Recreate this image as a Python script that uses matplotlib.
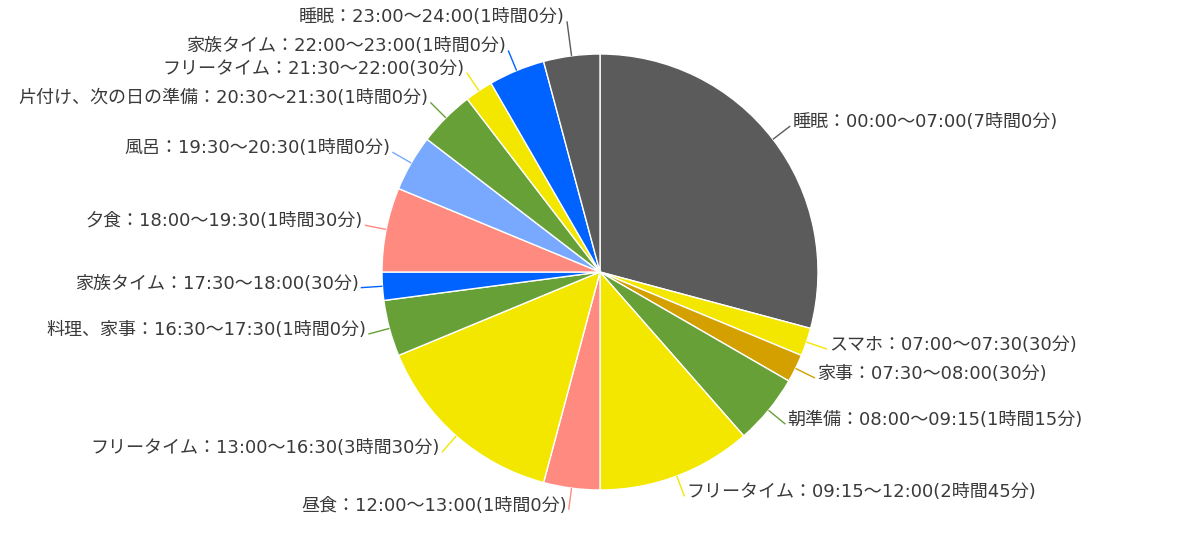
import numpy as np
import matplotlib.pyplot as plt

plt.rcParams['font.family'] = ['DejaVu Sans', 'Noto Sans CJK JP']

labels = [
    '睡眠：00:00〜07:00(7時間0分)',
    'スマホ：07:00〜07:30(30分)',
    '家事：07:30〜08:00(30分)',
    '朝準備：08:00〜09:15(1時間15分)',
    'フリータイム：09:15〜12:00(2時間45分)',
    '昼食：12:00〜13:00(1時間0分)',
    'フリータイム：13:00〜16:30(3時間30分)',
    '料理、家事：16:30〜17:30(1時間0分)',
    '家族タイム：17:30〜18:00(30分)',
    '夕食：18:00〜19:30(1時間30分)',
    '風呂：19:30〜20:30(1時間0分)',
    '片付け、次の日の準備：20:30〜21:30(1時間0分)',
    'フリータイム：21:30〜22:00(30分)',
    '家族タイム：22:00〜23:00(1時間0分)',
    '睡眠：23:00〜24:00(1時間0分)',
]
minutes = [420, 30, 30, 75, 165, 60, 210, 60, 30, 90, 60, 60, 30, 60, 60]

GRAY = '#5b5b5b'
YELLOW = '#f3e700'
GOLD = '#d4a000'
GREEN = '#67a036'
SALMON = '#ff8a80'
BLUE = '#0062ff'
LBLUE = '#78a9ff'
colors = [GRAY, YELLOW, GOLD, GREEN, YELLOW, SALMON, YELLOW, GREEN,
          BLUE, SALMON, LBLUE, GREEN, YELLOW, BLUE, GRAY]

# leader line length (in pie radii); the last one is pushed out to avoid overlap
leader = [1.1] * 14 + [1.16]

fig = plt.figure(figsize=(12, 5.45), dpi=100)
ax = fig.add_axes([0, 0, 1, 1])
R = 218.0  # pie radius in pixels

wedges, _ = ax.pie(minutes, colors=colors, startangle=90, counterclock=False,
                   radius=1.0, center=(0, 0), frame=True,
                   wedgeprops=dict(edgecolor='white', linewidth=1.0))
ax.set_xlim(-600 / R, 600 / R)
ax.set_ylim((272 - 545) / R, 272 / R)
ax.set_aspect('equal')
ax.axis('off')

for w, lab, col, r1 in zip(wedges, labels, colors, leader):
    ang = np.deg2rad((w.theta1 + w.theta2) / 2)
    x0, y0 = np.cos(ang), np.sin(ang)
    ax.plot([x0, r1 * x0], [y0, r1 * y0], color=col, lw=1, solid_capstyle='butt')
    ha = 'left' if x0 >= 0 else 'right'
    dx = 2 if x0 >= 0 else -2
    ax.annotate(lab, (r1 * x0, r1 * y0), xytext=(dx, 4), textcoords='offset pixels',
                ha=ha, va='center', fontsize=13, color='#3a3a3a')

fig.savefig('out.png', dpi=100)
